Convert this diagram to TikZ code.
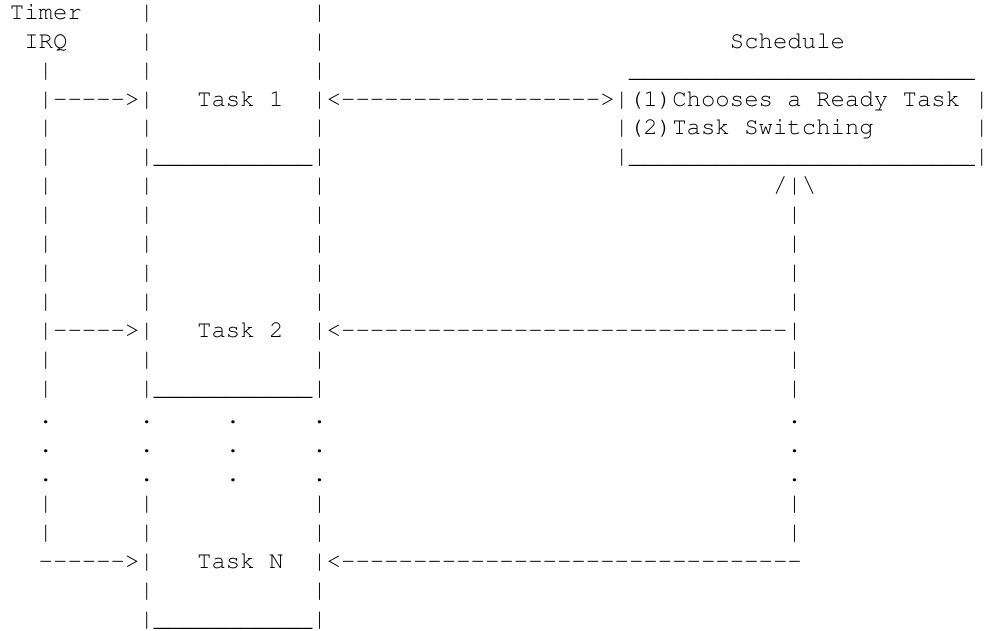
\documentclass[tikz,border=0pt]{standalone}
\usepackage[T1]{fontenc}
\usepackage{courier}
\newcommand{\rep}[2]{\foreach \k in {1,...,#1}{#2}}
\begin{document}
\begin{tikzpicture}[x=14.40pt, y=-28.9pt,
  asc/.style={font=\ttfamily\fontsize{24}{28.9}\selectfont, inner sep=0pt, anchor=base west}]
  \useasboundingbox (-0.674,0.33) rectangle (67.8,22.13);
  % Timer IRQ
  \node[asc] (timer) at (0,1) {Timer};
  \node[asc] (irq) at (1,2) {IRQ};
  \foreach \r in {3,5,6,7,8,9,10,11,13,14,18,19}
    \node[asc] (irq\r) at (2,\r) {|};
  \node[asc] (go1) at (2,4) {|\rep{5}{-}>|};
  \node[asc] (go2) at (2,12) {|\rep{5}{-}>|};
  \node[asc] (goN) at (2,20) {\rep{6}{-}>|};

  % Tasks
  \foreach \r in {1,2,3,5,7,8,9,10,11,13,18,19,21} {
    \node[asc] (tl\r) at (9,\r) {|};
    \node[asc] (tr\r) at (21,\r) {|};
  }
  \node[asc] (task1) at (13,4) {Task 1};
  \node[asc] (task2) at (13,12) {Task 2};
  \node[asc] (taskN) at (13,20) {Task N};
  \node[asc] (end1) at (9,6) {|\rep{11}{\_}|};
  \node[asc] (end2) at (9,14) {|\rep{11}{\_}|};
  \node[asc] (endN) at (9,22) {|\rep{11}{\_}|};
  \foreach \c in {2,9,15,21,54}
    \foreach \r in {15,16,17}
      \node[asc] (dot\c-\r) at (\c,\r) {.};

  % Schedule
  \node[asc] (sched) at (50,2) {Schedule};
  \node[asc] (schedtop) at (43,3) {\rep{24}{\_}};
  \node[asc] (back1) at (21,4) {|<\rep{18}{-}>};
  \node[asc] (sched1) at (42,4) {|(1)Chooses a Ready Task};
  \node[asc] (sched1r) at (67,4) {|};
  \node[asc] (sched2) at (42,5) {|(2)Task Switching};
  \node[asc] (sched2r) at (67,5) {|};
  \node[asc] (schedbot) at (42,6) {|\rep{24}{\_}|};
  \node[asc] (up) at (53,7) {/|\textbackslash};
  \foreach \r in {8,9,10,11,13,14,18,19}
    \node[asc] (ret\r) at (54,\r) {|};
  \node[asc] (back2) at (21,12) {|<\rep{31}{-}|};
  \node[asc] (backN) at (21,20) {|<\rep{32}{-}};
\end{tikzpicture}
\end{document}
